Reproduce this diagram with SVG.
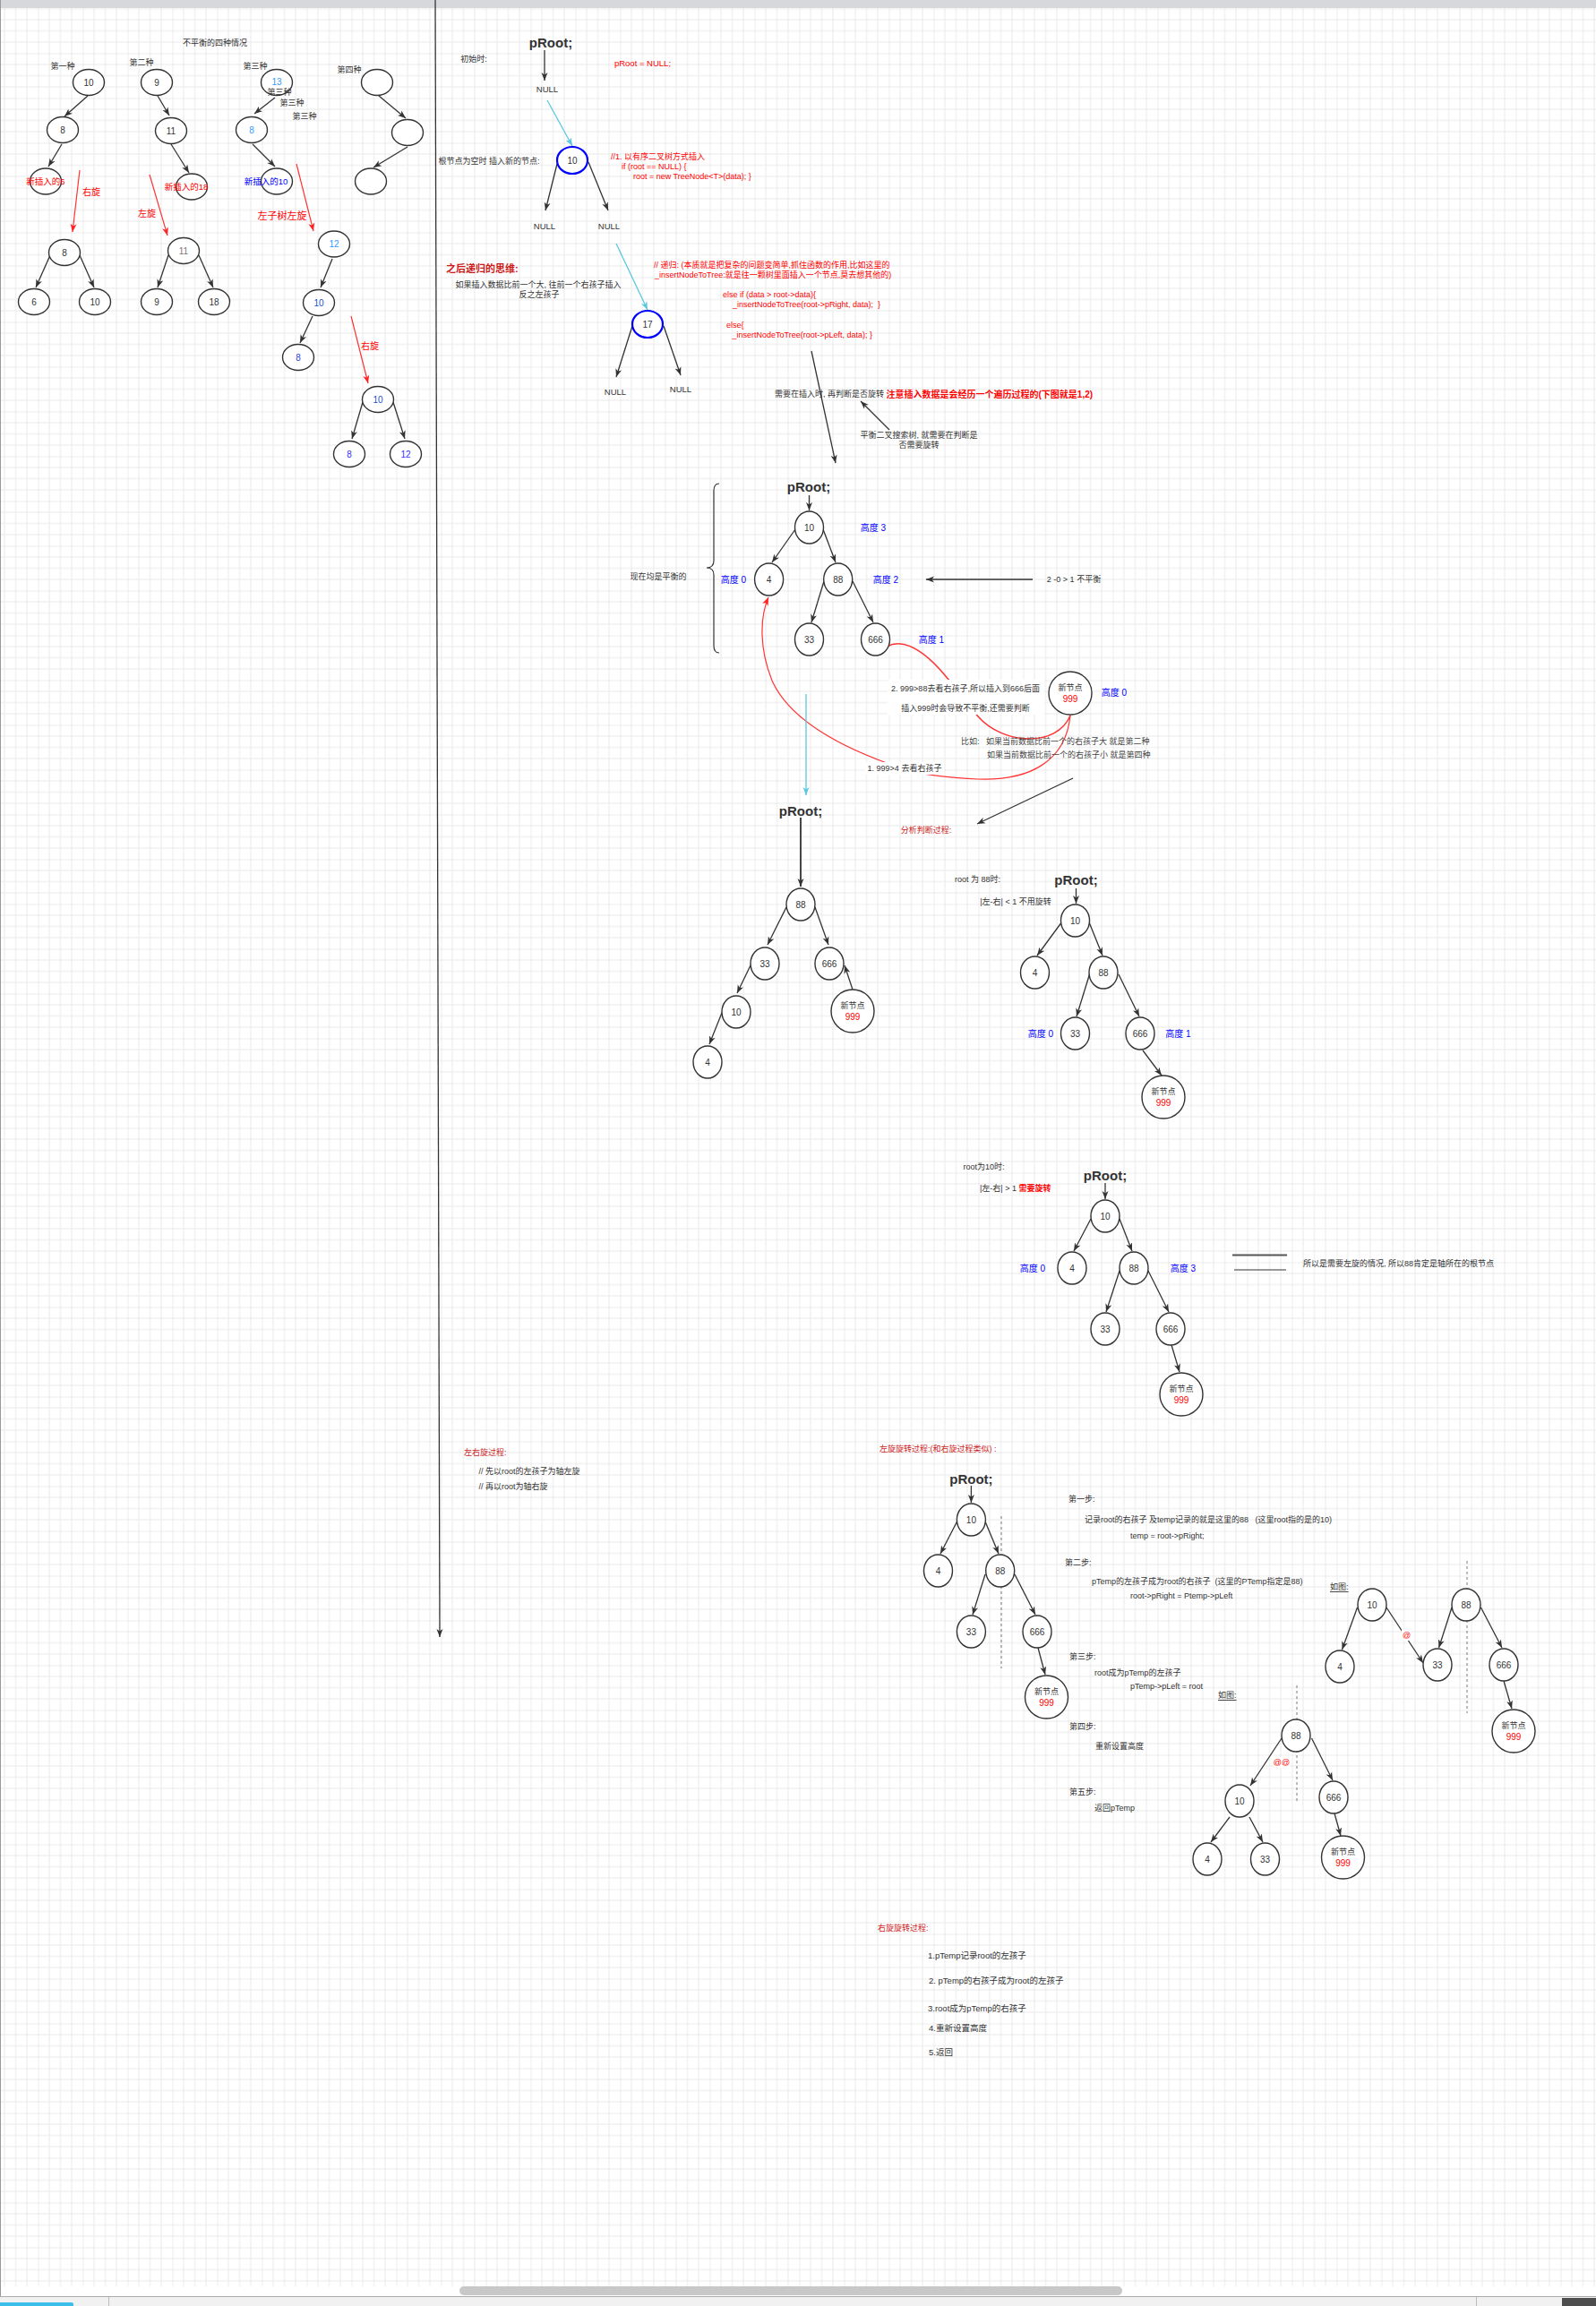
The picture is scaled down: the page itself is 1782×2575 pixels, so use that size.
<svg xmlns="http://www.w3.org/2000/svg" width="1782" height="2575" viewBox="0 0 1782 2575">
<defs>
  <pattern id="grid" x="42.5" y="9.5" width="50" height="50" patternUnits="userSpaceOnUse">
    <path d="M12.5,0V50M25,0V50M37.5,0V50M0,12.5H50M0,25H50M0,37.5H50" stroke="#e9e9e9" stroke-width="1" fill="none"/>
    <path d="M0,0V50M0,0H50" stroke="#d9d9d9" stroke-width="1" fill="none"/>
  </pattern>
  <marker id="ah" markerWidth="10" markerHeight="8" refX="9" refY="4" orient="auto" markerUnits="userSpaceOnUse">
    <path d="M0,0.5 L9,4 L0,7.5 L2.5,4 Z" fill="#333"/>
  </marker>
  <marker id="ahr" markerWidth="10" markerHeight="8" refX="9" refY="4" orient="auto" markerUnits="userSpaceOnUse">
    <path d="M0,0.5 L9,4 L0,7.5 L2.5,4 Z" fill="#f22"/>
  </marker>
  <marker id="ahc" markerWidth="10" markerHeight="8" refX="9" refY="4" orient="auto" markerUnits="userSpaceOnUse">
    <path d="M0,0.5 L9,4 L0,7.5 L2.5,4 Z" fill="#5ac8e0"/>
  </marker>
  <style>
    text { font-family: "Liberation Sans", "Noto Sans CJK SC", sans-serif; font-size: 9px; fill: #333; }
    .c { text-anchor: middle; dominant-baseline: central; }
    .l { dominant-baseline: central; }
    .v { font-size: 10px; }
    .nd { fill: #fff; stroke: #333; stroke-width: 1.4; }
    .bn { fill: #fff; stroke: #00f; stroke-width: 2.2; }
    .e { fill: none; stroke: #333; stroke-width: 1.3; marker-end: url(#ah); }
    .re { fill: none; stroke: #f33; stroke-width: 1.2; marker-end: url(#ahr); }
    .ce { fill: none; stroke: #5ac8e0; stroke-width: 1.3; marker-end: url(#ahc); }
    .dash { stroke: #555; stroke-width: 0.8; stroke-dasharray: 3 3; fill: none; }
    .red { fill: #f00; }
    .dred { fill: #cc1a1a; }
    .blue { fill: #00f; }
    .lb { fill: #3399ff; }
    .pr { font-size: 15px; font-weight: bold; }
    .bold { font-weight: bold; }
  </style>
</defs>

<!-- canvas -->
<rect x="0" y="0" width="1782" height="2575" fill="#fff"/>
<rect x="1" y="9" width="1781" height="2544" fill="url(#grid)"/>
<rect x="0" y="0" width="1782" height="9" fill="#d6d8dc"/>
<line x1="0.5" y1="0" x2="0.5" y2="2565" stroke="#999" stroke-width="1"/>
<rect x="513" y="2553" width="740" height="10" rx="5" fill="#c8c8c8"/>
<rect x="0" y="2564" width="1782" height="11" fill="#f1f1f1"/>
<line x1="0" y1="2564.5" x2="1782" y2="2564.5" stroke="#aaa" stroke-width="1"/>
<path d="M0,2571 H80 Q82,2571 82,2573 V2575 H0 Z" fill="#3bbfea"/>
<line x1="121.5" y1="2565" x2="121.5" y2="2575" stroke="#bbb"/>
<line x1="1648.5" y1="2565" x2="1648.5" y2="2575" stroke="#bbb"/>
<rect x="1744" y="2566" width="38" height="9" fill="#4d4d4d"/>

<!-- connectors -->
<g id="connectors">
  <line class="e" x1="486" y1="0" x2="491" y2="1828"/>
  <!-- case 1 -->
  <line class="e" x1="98" y1="107" x2="72" y2="130"/>
  <line class="e" x1="69" y1="161" x2="54" y2="186"/>
  <line class="re" x1="89" y1="190" x2="81" y2="259"/>
  <line class="e" x1="56" y1="285" x2="40" y2="321"/>
  <line class="e" x1="89" y1="285" x2="105" y2="321"/>
  <!-- case 2 -->
  <line class="e" x1="176" y1="107" x2="189" y2="129"/>
  <line class="e" x1="191" y1="161" x2="211" y2="193"/>
  <line class="re" x1="167" y1="195" x2="187" y2="263"/>
  <line class="e" x1="188" y1="285" x2="176" y2="321"/>
  <line class="e" x1="222" y1="285" x2="238" y2="321"/>
  <!-- case 3 -->
  <line class="e" x1="307" y1="109" x2="284" y2="127"/>
  <line class="e" x1="282" y1="161" x2="307" y2="186"/>
  <line class="re" x1="331" y1="183" x2="350" y2="258"/>
  <line class="e" x1="371" y1="289" x2="358" y2="321"/>
  <line class="e" x1="349" y1="353" x2="335" y2="383"/>
  <line class="re" x1="392" y1="353" x2="411" y2="428"/>
  <line class="e" x1="405" y1="449" x2="393" y2="490"/>
  <line class="e" x1="439" y1="449" x2="452" y2="490"/>
  <!-- case 4 -->
  <line class="e" x1="423" y1="107" x2="453" y2="132"/>
  <line class="e" x1="455" y1="164" x2="417" y2="187"/>

  <!-- insertion steps -->
  <line class="e" x1="608" y1="56" x2="608" y2="90"/>
  <line class="ce" x1="611" y1="112" x2="639" y2="163"/>
  <line class="e" x1="622" y1="183" x2="609" y2="235"/>
  <line class="e" x1="657" y1="181" x2="679" y2="235"/>
  <line class="ce" x1="688" y1="272" x2="723" y2="346"/>
  <line class="e" x1="706" y1="364" x2="688" y2="421"/>
  <line class="e" x1="741" y1="364" x2="760" y2="419"/>
  <line class="e" x1="906" y1="392" x2="933" y2="517"/>
  <line class="e" x1="993" y1="480" x2="961" y2="448"/>

  <!-- balanced tree -->
  <line class="e" x1="903.5" y1="553" x2="903.5" y2="570"/>
  <line class="e" x1="888" y1="591" x2="862" y2="628"/>
  <line class="e" x1="919" y1="591" x2="933" y2="628"/>
  <line class="e" x1="920" y1="649" x2="906" y2="695"/>
  <line class="e" x1="952" y1="649" x2="975" y2="695"/>
  <line class="e" x1="1153" y1="647" x2="1034" y2="647" style="stroke-width:1.6"/>
  <path class="re" d="M1195,799 C1190,850 1150,872 1092,870 C1050,868 1010,862 990,852 C930,830 880,800 862,760 C848,725 848,690 858,667"/>
  <path class="re" d="M1195,799 C1180,835 1120,832 1092,800 C1075,780 1068,770 1060,760 C1030,722 1000,705 979,732" style="stroke-width:1.5"/>
  <line class="e" x1="1198" y1="869" x2="1091" y2="920"/>
  <line class="ce" x1="900" y1="775" x2="900" y2="888"/>

  <!-- tree after a wrong insert -->
  <line class="e" x1="894" y1="913" x2="894" y2="990" style="stroke-width:1.8"/>
  <line class="e" x1="878" y1="1013" x2="857" y2="1055"/>
  <line class="e" x1="910" y1="1013" x2="925" y2="1055"/>
  <line class="e" x1="838" y1="1078" x2="823" y2="1109"/>
  <line class="e" x1="806" y1="1131" x2="792" y2="1166"/>
  <line class="e" x1="952" y1="1105" x2="943" y2="1078"/>

  <!-- root 88 -->
  <line class="e" x1="1201.5" y1="992" x2="1201.5" y2="1009"/>
  <line class="e" x1="1184.5" y1="1031" x2="1158" y2="1067"/>
  <line class="e" x1="1216.5" y1="1031" x2="1231" y2="1067"/>
  <line class="e" x1="1216.5" y1="1088" x2="1202" y2="1135"/>
  <line class="e" x1="1249" y1="1088" x2="1272" y2="1135"/>
  <line class="e" x1="1276" y1="1173" x2="1297" y2="1201"/>

  <!-- root 10 -->
  <line class="e" x1="1234" y1="1321" x2="1234" y2="1339"/>
  <line class="e" x1="1218" y1="1361" x2="1199" y2="1397"/>
  <line class="e" x1="1250" y1="1361" x2="1264" y2="1397"/>
  <line class="e" x1="1250" y1="1419" x2="1235" y2="1465"/>
  <line class="e" x1="1282" y1="1419" x2="1305" y2="1465"/>
  <line class="e" x1="1308" y1="1502" x2="1317" y2="1532"/>
  <line x1="1376" y1="1401.5" x2="1437" y2="1401.5" stroke="#555" stroke-width="1.8"/>
  <line x1="1378" y1="1418" x2="1436" y2="1418" stroke="#333" stroke-width="1.2"/>

  <!-- left rotation -->
  <line class="e" x1="1084.4" y1="1659" x2="1084.4" y2="1678"/>
  <line class="e" x1="1068.6" y1="1699" x2="1050" y2="1735"/>
  <line class="e" x1="1100" y1="1699" x2="1115" y2="1735"/>
  <line class="e" x1="1100" y1="1758" x2="1086" y2="1803"/>
  <line class="e" x1="1133" y1="1758" x2="1156" y2="1803"/>
  <line class="e" x1="1159" y1="1840" x2="1167" y2="1870"/>
  <line class="dash" x1="1118" y1="1693" x2="1118" y2="1863"/>

  <line class="e" x1="1515.5" y1="1795" x2="1498.5" y2="1842"/>
  <line class="e" x1="1548" y1="1795" x2="1589" y2="1857"/>
  <line class="e" x1="1621" y1="1795" x2="1606.5" y2="1840"/>
  <line class="e" x1="1653.5" y1="1795" x2="1677" y2="1840"/>
  <line class="e" x1="1679" y1="1877" x2="1688" y2="1908"/>
  <line class="dash" x1="1638" y1="1743" x2="1638" y2="1913"/>

  <line class="e" x1="1431" y1="1941" x2="1396" y2="1994"/>
  <line class="e" x1="1464.5" y1="1941" x2="1488" y2="1988"/>
  <line class="e" x1="1373" y1="2029" x2="1352" y2="2057"/>
  <line class="e" x1="1395" y1="2029" x2="1410" y2="2057"/>
  <line class="e" x1="1490" y1="2025" x2="1497" y2="2050"/>
  <line class="dash" x1="1448" y1="1882" x2="1448" y2="2012"/>
</g>

<!-- ===== four unbalanced cases ===== -->
<text class="c" x="240" y="47.5">不平衡的四种情况</text>
<text class="c" x="70" y="74">第一种</text>
<text class="c" x="158" y="70">第二种</text>
<text class="c" x="285" y="74">第三种</text>
<text class="c" x="390" y="78">第四种</text>

<g id="c1-10"><ellipse class="nd" cx="99" cy="92" rx="17.5" ry="14.5"/><text class="c v" x="99" y="92">10</text></g>
<g id="c1-8"><ellipse class="nd" cx="70" cy="145" rx="17.5" ry="14.5"/><text class="c v" x="70" y="145">8</text></g>
<g id="c1-6"><ellipse class="nd" cx="51" cy="202.5" rx="17.5" ry="14.5"/><text class="c red" x="51" y="202.5" style="font-size:9.5px">新插入的6</text></g>
<text class="c red" x="102" y="214" style="font-size:10px">右旋</text>
<g id="c1r-8"><ellipse class="nd" cx="72" cy="282" rx="17.5" ry="14.5"/><text class="c v" x="72" y="282">8</text></g>
<g id="c1r-6"><ellipse class="nd" cx="38" cy="337" rx="17.5" ry="14.5"/><text class="c v" x="38" y="337">6</text></g>
<g id="c1r-10"><ellipse class="nd" cx="106" cy="337" rx="17.5" ry="14.5"/><text class="c v" x="106" y="337">10</text></g>

<g id="c2-9"><ellipse class="nd" cx="175" cy="92" rx="17.5" ry="14.5"/><text class="c v" x="175" y="92">9</text></g>
<g id="c2-11"><ellipse class="nd" cx="191" cy="146" rx="17.5" ry="14.5"/><text class="c v" x="191" y="146">11</text></g>
<g id="c2-18"><ellipse class="nd" cx="214" cy="208.5" rx="17.5" ry="14.5"/><text class="c red" x="208" y="208" style="font-size:9.5px">新插入的18</text></g>
<text class="c red" x="164" y="238" style="font-size:10px">左旋</text>
<g id="c2r-11"><ellipse class="nd" cx="205" cy="280" rx="17.5" ry="14.5"/><text class="c v" x="205" y="280" style="fill:#777">11</text></g>
<g id="c2r-9"><ellipse class="nd" cx="175" cy="337" rx="17.5" ry="14.5"/><text class="c v" x="175" y="337">9</text></g>
<g id="c2r-18"><ellipse class="nd" cx="239" cy="337" rx="17.5" ry="14.5"/><text class="c v" x="239" y="337">18</text></g>

<g id="c3-13"><ellipse class="nd" cx="309" cy="92" rx="17.5" ry="14.5"/><text class="c v lb" x="309" y="91">13</text></g>
<text class="c" x="312" y="102.5">第三种</text>
<text class="c" x="326" y="115">第三种</text>
<text class="c" x="340" y="130">第三种</text>
<g id="c3-8"><ellipse class="nd" cx="281" cy="145" rx="17.5" ry="14.5"/><text class="c v lb" x="281" y="145">8</text></g>
<g id="c3-10"><ellipse class="nd" cx="309" cy="202.5" rx="17.5" ry="14.5"/><text class="c blue" x="297" y="202.5" style="font-size:9.5px">新插入的10</text></g>
<text class="c red" x="315" y="241" style="font-size:11px">左子树左旋</text>
<g id="c3a-12"><ellipse class="nd" cx="373" cy="272.5" rx="17.5" ry="14.5"/><text class="c v lb" x="373" y="272.5">12</text></g>
<g id="c3a-10"><ellipse class="nd" cx="356" cy="338" rx="17.5" ry="14.5"/><text class="c v" x="356" y="338" style="fill:#1a4fc9">10</text></g>
<g id="c3a-8"><ellipse class="nd" cx="333" cy="399" rx="17.5" ry="14.5"/><text class="c v" x="333" y="399" style="fill:#2f3fe0">8</text></g>
<text class="c red" x="413" y="386" style="font-size:10px">右旋</text>
<g id="c3b-10"><ellipse class="nd" cx="422" cy="446" rx="17.5" ry="14.5"/><text class="c v" x="422" y="446" style="fill:#1a4fc9">10</text></g>
<g id="c3b-8"><ellipse class="nd" cx="390" cy="507" rx="17.5" ry="14.5"/><text class="c v" x="390" y="507" style="fill:#3333ff">8</text></g>
<g id="c3b-12"><ellipse class="nd" cx="453" cy="507" rx="17.5" ry="14.5"/><text class="c v" x="453" y="507" style="fill:#3333ff">12</text></g>

<g id="c4-a"><ellipse class="nd" cx="421" cy="92" rx="17.5" ry="14.5"/></g>
<g id="c4-b"><ellipse class="nd" cx="455" cy="148" rx="17.5" ry="14.5"/></g>
<g id="c4-c"><ellipse class="nd" cx="414" cy="202.5" rx="17.5" ry="14.5"/></g>

<!-- ===== insertion ===== -->
<text class="c pr" x="615" y="47">pRoot;</text>
<text class="c" x="529" y="66">初始时:</text>
<text class="c" x="611" y="99" style="font-size:9.5px">NULL</text>
<text class="c red" x="717.5" y="70.7" style="font-size:9.5px">pRoot = NULL;</text>
<text class="c" x="546" y="180">根节点为空时 插入新的节点:</text>
<g id="ins-10"><ellipse class="bn" cx="639" cy="179" rx="17" ry="15"/><text class="c v" x="639" y="179">10</text></g>
<text class="c" x="608" y="252" style="font-size:9.5px">NULL</text>
<text class="c" x="680" y="252" style="font-size:9.5px">NULL</text>
<text class="l red" x="682" y="175">//1. 以有序二叉树方式插入</text>
<text class="l red" x="694" y="186">if (root == NULL) {</text>
<text class="l red" x="707" y="197">root = new TreeNode&lt;T&gt;(data); }</text>

<text class="l dred bold" x="498" y="300" style="font-size:11px">之后递归的思维:</text>
<text class="c" x="601" y="318">如果插入数据比前一个大, 往前一个右孩子插入</text>
<text class="c" x="602" y="329">反之左孩子</text>
<text class="l red" x="730" y="296">// 递归: (本质就是把复杂的问题变简单,抓住函数的作用,比如这里的</text>
<text class="l red" x="731" y="307">_insertNodeToTree:就是往一颗树里面插入一个节点,莫去想其他的)</text>
<text class="l red" x="807" y="329">else if (data &gt; root-&gt;data){</text>
<text class="l red" x="818" y="340" xml:space="preserve">_insertNodeToTree(root-&gt;pRight, data);  }</text>
<text class="l red" x="811" y="363">else{</text>
<text class="l red" x="817.5" y="374">_insertNodeToTree(root-&gt;pLeft, data); }</text>
<g id="ins-17"><ellipse class="bn" cx="723" cy="362" rx="17" ry="15"/><text class="c v" x="723" y="362">17</text></g>
<text class="c" x="687" y="437" style="font-size:9.5px">NULL</text>
<text class="c" x="760" y="434" style="font-size:9.5px">NULL</text>

<text class="l" x="865" y="440">需要在插入时, 再判断是否旋转 <tspan class="red bold" style="font-size:10px">注意插入数据是会经历一个遍历过程的(下图就是1,2)</tspan></text>
<text class="c" x="1026" y="486">平衡二叉搜索树, 就需要在判断是</text>
<text class="c" x="1026" y="497">否需要旋转</text>

<!-- ===== balanced tree ===== -->
<path d="M803,540 Q797,540 797,548 L797,626 Q797,634 789,634 Q797,634 797,642 L797,721 Q797,729 803,729" fill="none" stroke="#333" stroke-width="1.2"/>
<text class="c" x="735" y="644">现在均是平衡的</text>
<text class="c pr" x="903" y="543">pRoot;</text>
<g id="b-10"><ellipse class="nd" cx="903.5" cy="589" rx="16" ry="18"/><text class="c v" x="903.5" y="589">10</text></g>
<g id="b-4"><ellipse class="nd" cx="858.6" cy="647" rx="16" ry="18"/><text class="c v" x="858.6" y="647">4</text></g>
<g id="b-88"><ellipse class="nd" cx="935.7" cy="647" rx="16" ry="18"/><text class="c v" x="935.7" y="647">88</text></g>
<g id="b-33"><ellipse class="nd" cx="903.5" cy="714" rx="16" ry="18"/><text class="c v" x="903.5" y="714">33</text></g>
<g id="b-666"><ellipse class="nd" cx="977.5" cy="714" rx="16" ry="18"/><text class="c v" x="977.5" y="714">666</text></g>
<text class="c blue v" x="975" y="589">高度 3</text>
<text class="c blue v" x="819" y="647">高度 0</text>
<text class="c blue v" x="989" y="647">高度 2</text>
<text class="c blue v" x="1040" y="714">高度 1</text>
<text class="c" x="1199" y="647">2 -0 &gt; 1 不平衡</text>
<g id="b-999"><ellipse class="nd" cx="1195" cy="774" rx="24" ry="24"/><text class="c" x="1195" y="768">新节点</text><text class="c red v" x="1195" y="780">999</text></g>
<text class="c blue v" x="1244" y="773">高度 0</text>
<rect x="991" y="759" width="175" height="39" fill="#fff"/>
<text class="c" x="1078" y="769">2. 999&gt;88去看右孩子,所以插入到666后面</text>
<text class="c" x="1078" y="791">插入999时会导致不平衡,还需要判断</text>
<rect x="966" y="851" width="88" height="14" fill="#fff"/>
<text class="c" x="1010" y="858">1. 999&gt;4 去看右孩子</text>
<text class="l" x="1073" y="828" xml:space="preserve" style="fill:#444">比如:   如果当前数据比前一个的右孩子大 就是第二种</text>
<text class="l" x="1102" y="843" style="fill:#444">如果当前数据比前一个的右孩子小 就是第四种</text>
<text class="c dred" x="1034" y="927">分析判断过程:</text>

<!-- ===== chain tree ===== -->
<text class="c pr" x="894" y="905">pRoot;</text>
<g id="d-88"><ellipse class="nd" cx="894" cy="1010" rx="16" ry="18"/><text class="c v" x="894" y="1010">88</text></g>
<g id="d-33"><ellipse class="nd" cx="854" cy="1076" rx="16" ry="18"/><text class="c v" x="854" y="1076">33</text></g>
<g id="d-666"><ellipse class="nd" cx="926" cy="1076" rx="16" ry="18"/><text class="c v" x="926" y="1076">666</text></g>
<g id="d-10"><ellipse class="nd" cx="822" cy="1130" rx="16" ry="18"/><text class="c v" x="822" y="1130">10</text></g>
<g id="d-4"><ellipse class="nd" cx="790" cy="1186" rx="16" ry="18"/><text class="c v" x="790" y="1186">4</text></g>
<g id="d-999"><ellipse class="nd" cx="952" cy="1129" rx="24" ry="24"/><text class="c" x="952" y="1123">新节点</text><text class="c red v" x="952" y="1135">999</text></g>

<!-- ===== root is 88 ===== -->
<text class="c" x="1091.5" y="982">root 为 88时:</text>
<text class="c" x="1134" y="1007">|左-右| &lt; 1 不用旋转</text>
<text class="c pr" x="1201.5" y="982">pRoot;</text>
<g id="e-10"><ellipse class="nd" cx="1200.5" cy="1028" rx="16" ry="18"/><text class="c v" x="1200.5" y="1028">10</text></g>
<g id="e-4"><ellipse class="nd" cx="1155.5" cy="1086" rx="16" ry="18"/><text class="c v" x="1155.5" y="1086">4</text></g>
<g id="e-88"><ellipse class="nd" cx="1232" cy="1086" rx="16" ry="18"/><text class="c v" x="1232" y="1086">88</text></g>
<g id="e-33"><ellipse class="nd" cx="1200.5" cy="1154" rx="16" ry="18"/><text class="c v" x="1200.5" y="1154">33</text></g>
<g id="e-666"><ellipse class="nd" cx="1273" cy="1154" rx="16" ry="18"/><text class="c v" x="1273" y="1154">666</text></g>
<g id="e-999"><ellipse class="nd" cx="1299" cy="1225" rx="24" ry="24"/><text class="c" x="1299" y="1219">新节点</text><text class="c red v" x="1299" y="1231">999</text></g>
<text class="c blue v" x="1162" y="1154">高度 0</text>
<text class="c blue v" x="1315.5" y="1154">高度 1</text>

<!-- ===== root is 10 ===== -->
<text class="c" x="1098.5" y="1303">root为10时:</text>
<text class="l" x="1094" y="1327">|左-右| &gt; 1 <tspan class="red bold">需要旋转</tspan></text>
<text class="c pr" x="1234" y="1312">pRoot;</text>
<g id="f-10"><ellipse class="nd" cx="1234" cy="1358" rx="16" ry="18"/><text class="c v" x="1234" y="1358">10</text></g>
<g id="f-4"><ellipse class="nd" cx="1197" cy="1416" rx="16" ry="18"/><text class="c v" x="1197" y="1416">4</text></g>
<g id="f-88"><ellipse class="nd" cx="1266" cy="1416" rx="16" ry="18"/><text class="c v" x="1266" y="1416">88</text></g>
<g id="f-33"><ellipse class="nd" cx="1234" cy="1484" rx="16" ry="18"/><text class="c v" x="1234" y="1484">33</text></g>
<g id="f-666"><ellipse class="nd" cx="1307" cy="1484" rx="16" ry="18"/><text class="c v" x="1307" y="1484">666</text></g>
<g id="f-999"><ellipse class="nd" cx="1319" cy="1557" rx="24" ry="24"/><text class="c" x="1319" y="1551">新节点</text><text class="c red v" x="1319" y="1563">999</text></g>
<text class="c blue v" x="1153" y="1416">高度 0</text>
<text class="c blue v" x="1321" y="1416">高度 3</text>
<text class="l" x="1455" y="1411">所以是需要左旋的情况, 所以88肯定是轴所在的根节点</text>

<!-- ===== left-right rotation ===== -->
<text class="l dred" x="518" y="1622">左右旋过程:</text>
<text class="l" x="534.6" y="1643">// 先以root的左孩子为轴左旋</text>
<text class="l" x="534.6" y="1660">// 再以root为轴右旋</text>

<!-- ===== left rotation ===== -->
<text class="l dred" x="982" y="1618">左旋旋转过程:(和右旋过程类似) :</text>
<text class="c pr" x="1084.4" y="1651">pRoot;</text>
<g id="h-10"><ellipse class="nd" cx="1084.4" cy="1697" rx="16" ry="18"/><text class="c v" x="1084.4" y="1697">10</text></g>
<g id="h-4"><ellipse class="nd" cx="1047.5" cy="1754" rx="16" ry="18"/><text class="c v" x="1047.5" y="1754">4</text></g>
<g id="h-88"><ellipse class="nd" cx="1116.7" cy="1754" rx="16" ry="18"/><text class="c v" x="1116.7" y="1754">88</text></g>
<g id="h-33"><ellipse class="nd" cx="1084.4" cy="1822" rx="16" ry="18"/><text class="c v" x="1084.4" y="1822">33</text></g>
<g id="h-666"><ellipse class="nd" cx="1158" cy="1822" rx="16" ry="18"/><text class="c v" x="1158" y="1822">666</text></g>
<g id="h-999"><ellipse class="nd" cx="1168.5" cy="1895" rx="24" ry="24"/><text class="c" x="1168.5" y="1889">新节点</text><text class="c red v" x="1168.5" y="1901">999</text></g>

<text class="l" x="1193" y="1674">第一步:</text>
<text class="l" x="1211" y="1697" xml:space="preserve">记录root的右孩子 及temp记录的就是这里的88   (这里root指的是的10)</text>
<text class="l" x="1262" y="1715">temp = root-&gt;pRight;</text>
<text class="l" x="1189" y="1745">第二步:</text>
<text class="l" x="1219" y="1766" xml:space="preserve">pTemp的左孩子成为root的右孩子  (这里的PTemp指定是88)</text>
<text class="l" x="1262" y="1782">root-&gt;pRight = Ptemp-&gt;pLeft</text>
<text class="l" x="1194" y="1850">第三步:</text>
<text class="l" x="1222" y="1868">root成为pTemp的左孩子</text>
<text class="l" x="1262" y="1883">pTemp-&gt;pLeft = root</text>
<text class="l" x="1360" y="1893" text-decoration="underline">如图:</text>
<text class="l" x="1485" y="1772" text-decoration="underline">如图:</text>
<text class="l" x="1194" y="1928">第四步:</text>
<text class="l" x="1223" y="1950">重新设置高度</text>
<text class="l" x="1194" y="2001">第五步:</text>
<text class="l" x="1222" y="2019">返回pTemp</text>

<g id="i-10"><ellipse class="nd" cx="1532" cy="1792" rx="16" ry="18"/><text class="c v" x="1532" y="1792">10</text></g>
<g id="i-88"><ellipse class="nd" cx="1637" cy="1792" rx="16" ry="18"/><text class="c v" x="1637" y="1792">88</text></g>
<g id="i-4"><ellipse class="nd" cx="1496" cy="1861" rx="16" ry="18"/><text class="c v" x="1496" y="1861">4</text></g>
<g id="i-33"><ellipse class="nd" cx="1605" cy="1859" rx="16" ry="18"/><text class="c v" x="1605" y="1859">33</text></g>
<g id="i-666"><ellipse class="nd" cx="1679" cy="1859" rx="16" ry="18"/><text class="c v" x="1679" y="1859">666</text></g>
<g id="i-999"><ellipse class="nd" cx="1690" cy="1933" rx="24" ry="24"/><text class="c" x="1690" y="1927">新节点</text><text class="c red v" x="1690" y="1939">999</text></g>
<rect x="1565" y="1820" width="11" height="12" fill="#fff"/>
<text class="c red" x="1570.6" y="1826">@</text>

<g id="j-88"><ellipse class="nd" cx="1447" cy="1938" rx="16" ry="18"/><text class="c v" x="1447" y="1938">88</text></g>
<g id="j-10"><ellipse class="nd" cx="1384" cy="2011" rx="16" ry="18"/><text class="c v" x="1384" y="2011">10</text></g>
<g id="j-666"><ellipse class="nd" cx="1489" cy="2007" rx="16" ry="18"/><text class="c v" x="1489" y="2007">666</text></g>
<g id="j-4"><ellipse class="nd" cx="1348" cy="2076" rx="16" ry="18"/><text class="c v" x="1348" y="2076">4</text></g>
<g id="j-33"><ellipse class="nd" cx="1412.5" cy="2076" rx="16" ry="18"/><text class="c v" x="1412.5" y="2076">33</text></g>
<g id="j-999"><ellipse class="nd" cx="1499.5" cy="2074" rx="24" ry="24"/><text class="c" x="1499.5" y="2068">新节点</text><text class="c red v" x="1499.5" y="2080">999</text></g>
<rect x="1422" y="1962" width="18" height="12" fill="#fff"/>
<text class="c red" x="1431" y="1968">@@</text>

<!-- ===== right rotation ===== -->
<text class="l dred" x="980" y="2153">右旋旋转过程:</text>
<text class="l" x="1036" y="2183" style="font-size:9.5px">1.pTemp记录root的左孩子</text>
<text class="l" x="1037" y="2211" style="font-size:9.5px">2. pTemp的右孩子成为root的左孩子</text>
<text class="l" x="1036" y="2242" style="font-size:9.5px">3.root成为pTemp的右孩子</text>
<text class="l" x="1037" y="2264" style="font-size:9.5px">4.重新设置高度</text>
<text class="l" x="1037" y="2291" style="font-size:9.5px">5.返回</text>
</svg>
